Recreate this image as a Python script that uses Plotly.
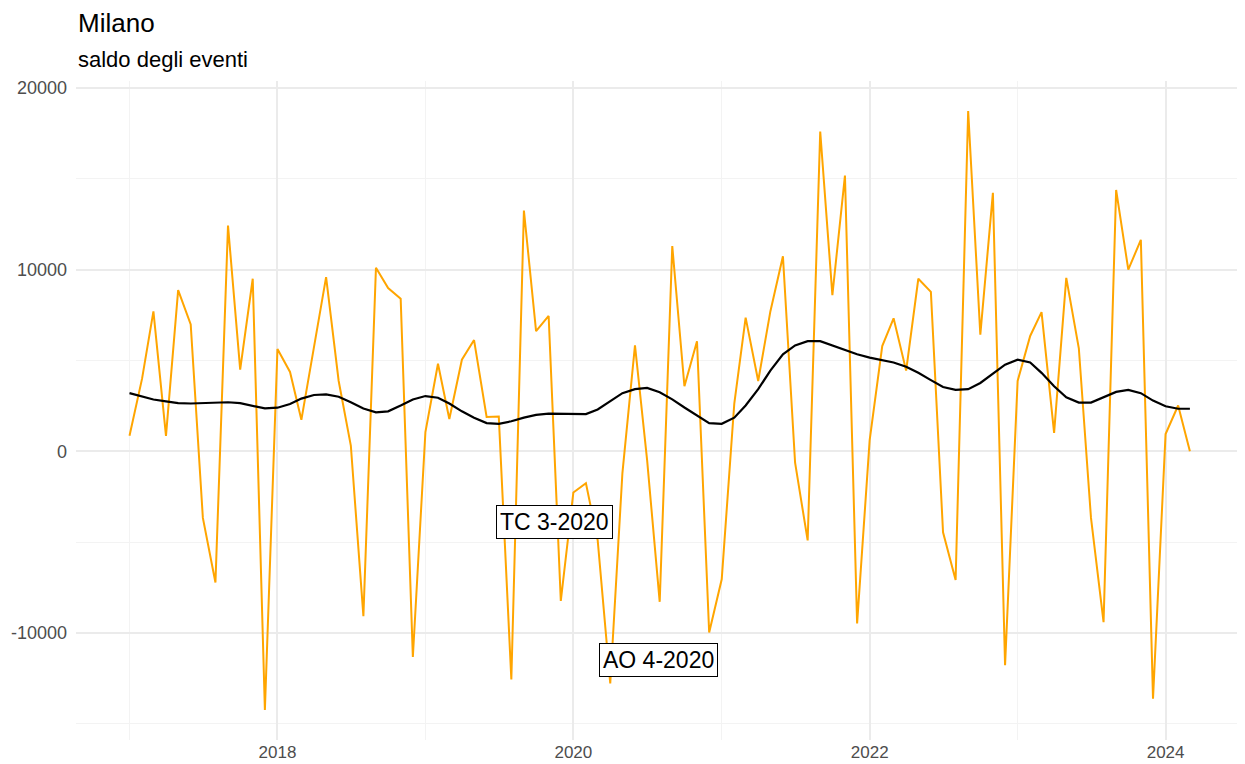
import pandas as pd
import plotly.graph_objects as go

months = pd.date_range("2017-01-01", periods=87, freq="MS")

saldo = [
    850, 4000, 7700, 850, 8870, 6980, -3670, -7230, 12430, 4500, 9500, -14250,
    5630, 4370, 1730, 5700, 9590, 3870, 315, -9080, 10110, 8990, 8400, -11330,
    1060, 4820, 1780, 5040, 6125, 1890, 1910, -12570, 13260, 6620, 7450, -8240,
    -2270, -1760, -4900, -12790, -1200, 5830, -500, -8290, 11300, 3580, 6060, -9980,
    -7050, 2630, 7360, 3870, 7700, 10740, -630, -4910, 17610, 8600, 15180, -9480,
    610, 5790, 7320, 4440, 9500, 8780, -4460, -7090, 18740, 6420, 14230, -11780,
    3870, 6350, 7660, 1010, 9550, 5670, -3670, -9410, 14390, 10000, 11640, -13620,
    950, 2520, 0,
]

trend = [
    3200, 3000, 2850, 2750, 2650, 2630, 2650, 2680, 2700, 2650, 2500, 2360,
    2400, 2600, 2900, 3100, 3130, 3000, 2700, 2350, 2140, 2200, 2520, 2850,
    3040, 2950, 2630, 2200, 1850, 1550, 1510, 1650, 1850, 2000, 2070, 2050,
    2030, 2050, 2300, 2750, 3200, 3420, 3490, 3250, 2860, 2410, 1960, 1550,
    1510, 1850, 2520, 3420, 4440, 5340, 5830, 6060, 6060, 5830, 5560, 5340,
    5160, 5020, 4890, 4660, 4320, 3920, 3540, 3380, 3420, 3760, 4260, 4770,
    5040, 4890, 4320, 3580, 2970, 2680, 2680, 2970, 3270, 3380, 3200, 2790,
    2480, 2340, 2340,
]

labels = ["TC 3-2020", "AO 4-2020"]
label_x = ["2019-11-15", "2020-07-28"]
label_y = [-3900, -11500]

y_ticks = [-10000, 0, 10000, 20000]
y_ticktext = ["-10000", "0", "10000", "20000"]
y_minor = [-15000, -5000, 5000, 15000]
x_ticks = ["2018-01-01", "2020-01-01", "2022-01-01", "2024-01-01"]
x_ticktext = ["2018", "2020", "2022", "2024"]
x_minor = ["2017-01-01", "2019-01-01", "2021-01-01", "2023-01-01"]

FONT = "Liberation Sans, Arial, sans-serif"

fig = go.Figure()
fig.add_trace(go.Scatter(x=months, y=saldo, mode="lines",
                         line=dict(color="#FFA500", width=2), showlegend=False))
fig.add_trace(go.Scatter(x=months, y=trend, mode="lines",
                         line=dict(color="#000000", width=2.2), showlegend=False))

for t, lx, ly in zip(labels, label_x, label_y):
    fig.add_annotation(x=lx, y=ly, text=t, showarrow=False,
                       font=dict(family=FONT, size=23, color="#000000"),
                       bgcolor="white", bordercolor="#000000", borderwidth=1,
                       borderpad=3)

fig.add_annotation(xref="paper", yref="paper", x=0, y=1.088, xanchor="left",
                   yanchor="middle", text="Milano", showarrow=False,
                   font=dict(family=FONT, size=26, color="#000000"))
fig.add_annotation(xref="paper", yref="paper", x=0, y=1.033, xanchor="left",
                   yanchor="middle", text="saldo degli eventi", showarrow=False,
                   font=dict(family=FONT, size=22, color="#000000"))

fig.update_layout(
    width=1237, height=756,
    margin=dict(l=68, r=2, t=73, b=24),
    paper_bgcolor="white", plot_bgcolor="white",
    font=dict(family=FONT),
    showlegend=False,
)
fig.update_xaxes(
    range=["2016-08-22", "2024-07-10"],
    tickvals=x_ticks, ticktext=x_ticktext,
    tickfont=dict(size=17, color="#4D4D4D"),
    showgrid=True, gridcolor="#EBEBEB", gridwidth=1.5,
    zeroline=False, showline=False, ticks="", automargin=False,
    ticklabelstandoff=0,
    minor=dict(tickvals=x_minor, showgrid=True, gridcolor="#F3F3F3", gridwidth=1),
)
fig.update_yaxes(
    range=[-15900, 20390],
    tickvals=y_ticks, ticktext=y_ticktext,
    tickfont=dict(size=18, color="#4D4D4D"),
    showgrid=True, gridcolor="#EBEBEB", gridwidth=1.5,
    zeroline=False, showline=False, ticks="", automargin=False,
    ticklabelstandoff=8,
    minor=dict(tickvals=y_minor, showgrid=True, gridcolor="#F3F3F3", gridwidth=1),
)

fig.write_html("out.html")
